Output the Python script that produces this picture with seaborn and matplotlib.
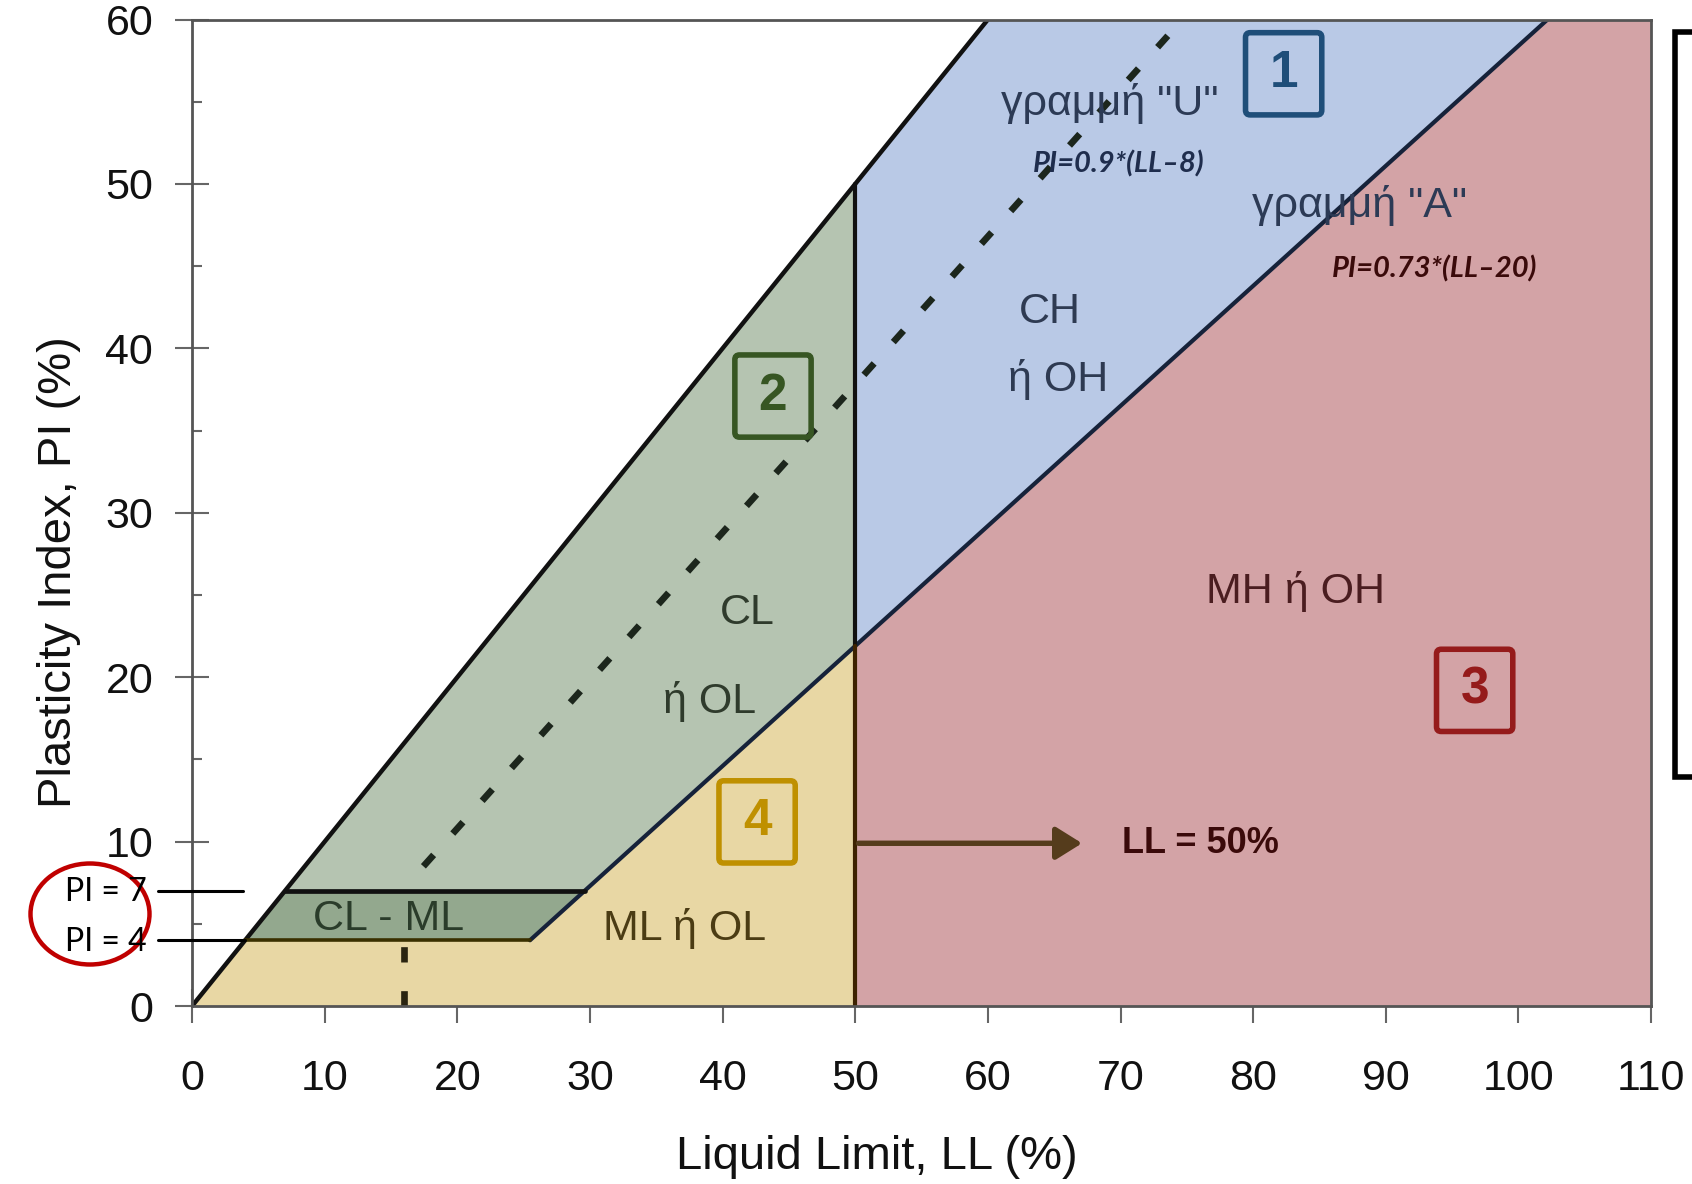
import matplotlib
matplotlib.use("Agg")
import matplotlib.pyplot as plt
from matplotlib.patches import Polygon, FancyBboxPatch, Ellipse
from matplotlib.lines import Line2D
from matplotlib import font_manager
import seaborn as sns

# ---- Casagrande plasticity chart definition ----
LL_MAX, PI_MAX = 110, 60
LL_SPLIT = 50                   # low / high plasticity boundary (LL = 50%)
PI_LOW, PI_HIGH = 4, 7          # limits of the CL-ML band
UPPER_SLOPE = 1.0               # upper limit of the chart: PI = LL
A_SLOPE, A_OFFSET = 0.73, 20    # A-line: PI = 0.73*(LL-20)
U_SLOPE, U_OFFSET = 0.9, 8      # U-line: PI = 0.9*(LL-8)
U_VERTICAL_LL = 16              # U-line vertical leg

x_ticks = [0, 10, 20, 30, 40, 50, 60, 70, 80, 90, 100, 110]
y_ticks = [0, 10, 20, 30, 40, 50, 60]

zone_labels = ["CH", "ή OH", "CL", "ή OL", "MH ή OH", "ML ή OL", "CL - ML"]
zone_ids = ["1", "2", "3", "4"]


def a_line(ll):
    return A_SLOPE * (ll - A_OFFSET)


def a_line_ll(pi):
    return pi / A_SLOPE + A_OFFSET


def u_line(ll):
    return U_SLOPE * (ll - U_OFFSET)


def u_line_ll(pi):
    return pi / U_SLOPE + U_OFFSET


sns.set_theme(style="white")
plt.rcParams["font.family"] = ["Liberation Sans", "DejaVu Sans"]

fig = plt.figure(figsize=(16.92, 11.84), dpi=100)
ax = fig.add_axes([0.1135, 0.1503, 0.8623, 0.8332])
ax.set_xlim(0, LL_MAX)
ax.set_ylim(0, PI_MAX)

a_split = a_line(LL_SPLIT)
a_low = a_line_ll(PI_LOW)
a_high = a_line_ll(PI_HIGH)
a_top = a_line_ll(PI_MAX)
upper_top = PI_MAX / UPPER_SLOPE

# ---- zone fills ----
zones = [
    ([(LL_SPLIT, a_split), (LL_SPLIT, LL_SPLIT * UPPER_SLOPE), (upper_top, PI_MAX), (a_top, PI_MAX)], "#b9c9e6"),
    ([(PI_HIGH, PI_HIGH), (a_high, PI_HIGH), (LL_SPLIT, a_split), (LL_SPLIT, LL_SPLIT * UPPER_SLOPE)], "#b5c4b1"),
    ([(LL_SPLIT, 0), (LL_SPLIT, a_split), (a_top, PI_MAX), (LL_MAX, PI_MAX), (LL_MAX, 0)], "#d3a3a6"),
    ([(0, 0), (PI_LOW, PI_LOW), (a_low, PI_LOW), (LL_SPLIT, a_split), (LL_SPLIT, 0)], "#e8d7a4"),
    ([(PI_LOW, PI_LOW), (a_low, PI_LOW), (a_high, PI_HIGH), (PI_HIGH, PI_HIGH)], "#93a88e"),
]
for verts, col in zones:
    ax.add_patch(Polygon(verts, closed=True, facecolor=col, edgecolor="none", zorder=1))


# ---- boundary lines ----
def seg(xs, ys, color, lw, **kw):
    sns.lineplot(x=xs, y=ys, sort=False, estimator=None, color=color, lw=lw,
                 ax=ax, zorder=3, **kw)


seg([0, upper_top], [0, PI_MAX], "#111111", 3.2)
seg([a_low, a_top], [PI_LOW, PI_MAX], "#16223a", 3.0)
seg([LL_SPLIT, LL_SPLIT], [a_split, LL_SPLIT * UPPER_SLOPE], "#111111", 3.0)
seg([LL_SPLIT, LL_SPLIT], [0, a_split], "#3d2200", 3.0)
seg([PI_HIGH, a_high], [PI_HIGH, PI_HIGH], "#111111", 3.4)
seg([PI_LOW, a_low], [PI_LOW, PI_LOW], "#3a3000", 2.6)

# U-line (dashed): short vertical leg below the CL-ML band, then the sloped part
dash_seq = (2.3, 4.3)
seg([U_VERTICAL_LL, U_VERTICAL_LL], [0, PI_LOW], "#2a2410", 4.8,
    linestyle=(0, dash_seq))
seg([U_VERTICAL_LL, u_line_ll(PI_MAX)], [u_line(U_VERTICAL_LL), PI_MAX],
    "#1c261c", 4.8, linestyle=(2.3, dash_seq))

# ---- axes styling ----
ax.set_xticks(x_ticks)
ax.set_yticks(y_ticks)
ax.set_xticks(range(5, LL_MAX, 10), minor=True)
ax.set_yticks(range(5, PI_MAX, 10), minor=True)
ax.tick_params(which="both", bottom=True, left=True, top=False, right=False)
ax.tick_params(which="major", direction="inout", length=24, width=1.5,
               color="#666666", labelsize=31, labelcolor="#111111")
ax.tick_params(axis="x", which="major", pad=26)
ax.tick_params(axis="y", which="major", pad=16)
ax.tick_params(which="minor", direction="in", length=7, width=1.5, color="#666666")
for sp in ax.spines.values():
    sp.set_color("#555555")
    sp.set_linewidth(2)
    sp.set_zorder(4)

ax.set_xlabel("Liquid Limit, LL (%)", fontsize=34, color="#111111")
ax.set_ylabel("Plasticity Index, PI (%)", fontsize=34, color="#111111")
ax.xaxis.label.set_va("center")
ax.yaxis.label.set_va("center")
ax.xaxis.set_label_coords(0.469, -0.153)
ax.yaxis.set_label_coords(-0.091, 0.44)

# ---- zone labels ----
lbl_kw = dict(fontsize=31, ha="center", va="center", zorder=5)
ax.text(64.7, 42.2, zone_labels[0], color="#2e3a52", **lbl_kw)
ax.text(65.3, 38.1, zone_labels[1], color="#2e3a52", **lbl_kw)
ax.text(41.9, 23.9, zone_labels[2], color="#2f3b2c", **lbl_kw)
ax.text(39.0, 18.5, zone_labels[3], color="#2f3b2c", **lbl_kw)
ax.text(83.2, 25.2, zone_labels[4], color="#4a1d20", **lbl_kw)
ax.text(37.1, 4.7, zone_labels[5], color="#4b3c14", **lbl_kw)
ax.text(14.8, 5.3, zone_labels[6], color="#2a3c2a", **lbl_kw)

ax.text(69.2, 54.9, 'γραμμή "U"', color="#2c3a55", **lbl_kw)
ax.text(88.0, 48.7, 'γραμμή "A"', color="#2c3a55", **lbl_kw)

eq_kw = dict(fontsize=21, ha="center", va="center", fontweight="bold",
             fontstyle="italic", family=["Lato", "DejaVu Sans"], zorder=5)
ax.text(69.9, 51.2, "PI=0.9*(LL–8)", color="#1f2d4d", **eq_kw)
ax.text(93.7, 44.8, "PI=0.73*(LL–20)", color="#3a0a0a", **eq_kw)

# LL = 50% arrow and label
ax.annotate("", xy=(67.1, 9.9), xytext=(50.25, 9.9),
            arrowprops=dict(arrowstyle="-|>,head_length=0.4,head_width=0.25",
                            color="#553c1c", lw=3.9, mutation_scale=40,
                            shrinkA=0, shrinkB=0), zorder=5)
names = {f.name for f in font_manager.fontManager.ttflist}
if "Liberation Sans Narrow" in names:
    ax.text(76.0, 9.9, "LL = 50%", fontsize=33, fontweight="bold", color="#3a0a0a",
            family=["Liberation Sans Narrow"], ha="center", va="center", zorder=5)
else:
    ax.text(76.0, 9.9, "LL = 50%", fontsize=26, fontweight="bold", color="#3a0a0a",
            ha="center", va="center", zorder=5)

# ---- numbered zone boxes ----
box_w, box_h = 5.75, 5.0
boxes = [(82.3, 56.7, "#1f4e79"), (43.8, 37.1, "#375623"),
         (96.7, 19.2, "#951b1b"), (42.6, 11.2, "#bf9000")]
for (cx, cy, col), num in zip(boxes, zone_ids):
    ax.add_patch(FancyBboxPatch((cx - box_w / 2, cy - box_h / 2), box_w, box_h,
                                boxstyle="round,pad=0,rounding_size=0.35",
                                mutation_aspect=0.81, fill=False, ec=col, lw=4,
                                zorder=6))
    ax.text(cx, cy, num, fontsize=37, fontweight="bold", color=col,
            ha="center", va="center", zorder=6)

# ---- PI = 7 / PI = 4 call-outs ----
for pi_val, x_end in [(PI_HIGH, 3.85), (PI_LOW, PI_LOW)]:
    ax.plot([-2.6, x_end], [pi_val, pi_val], color="black", lw=2.2,
            clip_on=False, zorder=6)
callout_kw = dict(fontsize=23, ha="right", va="center", color="black",
                  family=["Lato", "DejaVu Sans"])
fig.text(147 / 1692, 1 - 892 / 1184, "PI = 7", **callout_kw)
fig.text(147 / 1692, 1 - 942 / 1184, "PI = 4", **callout_kw)
fig.add_artist(Ellipse((90 / 1692, 1 - 914 / 1184), 119 / 1692, 101 / 1184,
                       transform=fig.transFigure, fill=False, ec="#c00000", lw=3.2))

# ---- bracket at right edge ----
bx, btop, bbot = 1675 / 1692, 1 - 32 / 1184, 1 - 777 / 1184
fig.add_artist(Line2D([1.02, bx, bx, 1.02], [btop, btop, bbot, bbot],
                      transform=fig.transFigure, color="black", lw=4,
                      solid_joinstyle="miter"))

fig.savefig("out.png", dpi=100)
